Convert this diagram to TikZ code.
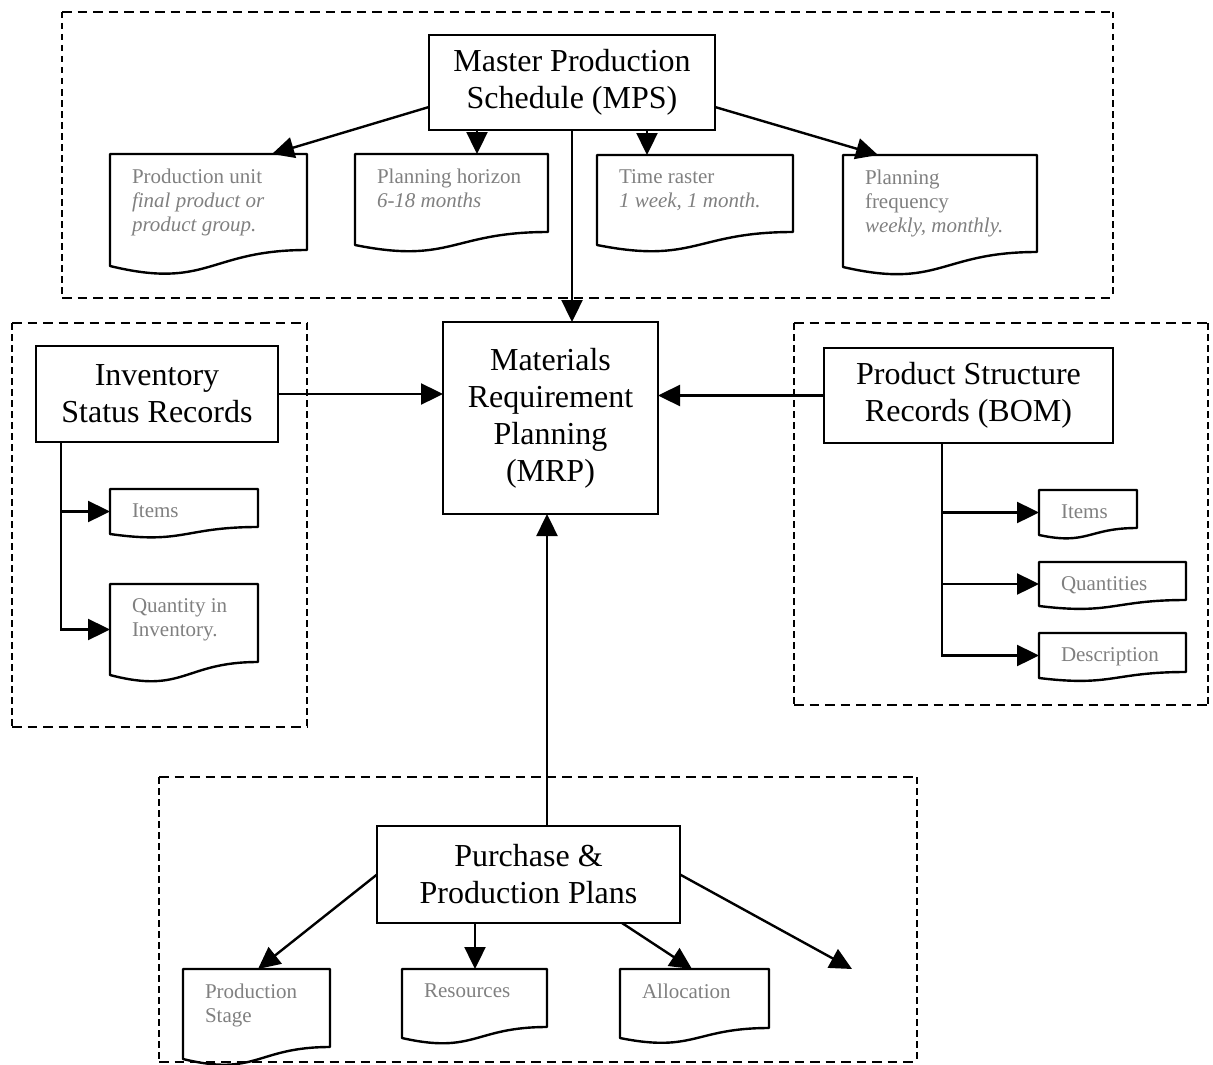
\documentclass[tikz,border=0pt]{standalone}
\usepackage{fontspec}
\setmainfont{Liberation Serif}
\usetikzlibrary{arrows.meta,calc,fit}

\tikzset{
  mainbox/.style={draw, line width=2.6pt, fill=white, align=center, inner sep=0pt, outer sep=0pt,
    font=\fontsize{32}{37}\selectfont},
  docarea/.style={draw=none, inner sep=0pt, outer sep=0pt},
  docline/.style={line width=2.4pt, line join=round},
  doctext/.style={anchor=north west, inner sep=0pt, outer sep=0pt, align=left, text=black!50,
    font=\fontsize{21}{24}\selectfont},
  arr/.style={line width=2.4pt, -{Triangle[length=22pt,width=21pt]}},
  hdash/.style={line width=2.4pt, dash pattern=on 9.5pt off 6pt},
  vdash/.style={line width=2.4pt, dash pattern=on 6.5pt off 4.5pt}
}

% document symbol: name, left x, top y, right x, bottom-left y, rise of right corner, text
\newcommand\docshape[7]{%
  \node[docarea, fit={(#2,#3) (#4,#5)}] (#1) {};
  \draw[docline] (#1.south west) -- (#1.north west) -- (#1.north east) -- ($(#1.south east)+(0,-#6)$)
    .. controls ($(#1.south west)!0.5!(#1.south east)+(0,-#6)$)
       and ($(#1.south west)!0.5!(#1.south east)+(0,{1.5*#6})$) .. (#1.south west) -- cycle;
  \node[doctext] (#1-t) at ($(#1.north west)+(22,15)$) {#7};
}

% dashed group frame: x1, y1, x2, y2
\newcommand\dashframe[4]{%
  \draw[hdash] (#1,#2) -- (#3,#2) (#1,#4) -- (#3,#4);
  \draw[vdash] (#1,#2) -- (#1,#4) (#3,#2) -- (#3,#4);
}

\begin{document}
\begin{tikzpicture}[x=1pt, y=-1pt]
\useasboundingbox (0,0) rectangle (1213,1065);

% group frames
\dashframe{62}{12}{1113}{298}
\dashframe{12}{323}{307}{727}
\dashframe{794}{323}{1208}{705}
\dashframe{159}{777}{917}{1062}

% main blocks
\node[mainbox, minimum width=286pt, minimum height=95pt] (mps) at (572,82.5)
  {Master Production\\Schedule (MPS)};
\node[mainbox, minimum width=215pt, minimum height=192pt] (mrp) at (550.5,418)
  {Materials\\Requirement\\Planning\\(MRP)};
\node[mainbox, minimum width=242pt, minimum height=96pt] (inv) at (157,394)
  {Inventory\\Status Records};
\node[mainbox, minimum width=289pt, minimum height=95pt] (bom) at (968.5,395.5)
  {Product Structure\\Records (BOM)};
\node[mainbox, minimum width=303pt, minimum height=97pt] (ppp) at (528.5,874.5)
  {Purchase \&\\Production Plans};

% documents
\docshape{d1}{110}{154}{307}{266}{16}{Production unit\\\textit{final product or}\\\textit{product group.}}
\docshape{d2}{355}{154}{548}{245}{13}{Planning horizon\\\textit{6-18 months}}
\docshape{d3}{597}{155}{793}{245}{13}{Time raster\\\textit{1 week, 1 month.}}
\docshape{d4}{843}{155}{1037}{267}{15}{Planning\\frequency\\\textit{weekly, monthly.}}
\docshape{li}{110}{489}{258}{534}{7}{Items}
\docshape{lq}{110}{584}{258}{675}{13}{Quantity in\\Inventory.}
\docshape{ri}{1039}{490}{1137}{535}{7}{Items}
\docshape{rq}{1039}{562}{1186}{606}{6}{Quantities}
\docshape{rd}{1039}{633}{1186}{678}{6}{Description}
\docshape{bp}{183}{969}{330}{1059}{12}{Production\\Stage}
\docshape{br}{402}{969}{547}{1038}{11}{Resources}
\docshape{ba}{620}{969}{769}{1038}{10}{Allocation}

% MPS outputs
\draw[arr] ($(mps.south west)+(0,-23)$) -- ($(d1.north west)+(162,0)$);
\draw[arr] ($(mps.south west)+(48,0)$) coordinate (m2) -- (m2 |- d2.north);
\draw[arr] ($(mps.south west)+(218,0)$) coordinate (m3) -- (m3 |- d3.north);
\draw[arr] ($(mps.south east)+(0,-23)$) -- ($(d4.north west)+(35,0)$);
\draw[arr] (mps.south) -- (mps.south |- mrp.north);

% inputs to MRP
\draw[arr] (inv.east) -- (inv.east -| mrp.west);
\draw[arr] (bom.west) -- (bom.west -| mrp.east);
\draw[arr] ($(ppp.north west)+(170,0)$) coordinate (p0) -- (p0 |- mrp.south);

% inventory records
\coordinate (ir) at ($(inv.south west)+(25,0)$);
\draw[arr] (ir) |- (li.west);
\draw[arr] (ir) |- (lq.west);

% product structure records
\coordinate (br0) at ($(bom.south west)+(118,0)$);
\draw[arr] (br0) |- (ri.west);
\draw[arr] (br0) |- (rq.west);
\draw[arr] (br0) |- (rd.west);

% purchase and production plans
\coordinate (pfree) at (852,969);
\draw[arr] (ppp.west) -- ($(bp.north west)+(75,0)$);
\draw[arr] ($(ppp.south west)+(98,0)$) coordinate (p2) -- (p2 |- br.north);
\draw[arr] ($(ppp.south west)+(245,0)$) -- ($(ba.north west)+(72,0)$);
\draw[arr] (ppp.east) -- (pfree);
\end{tikzpicture}
\end{document}
